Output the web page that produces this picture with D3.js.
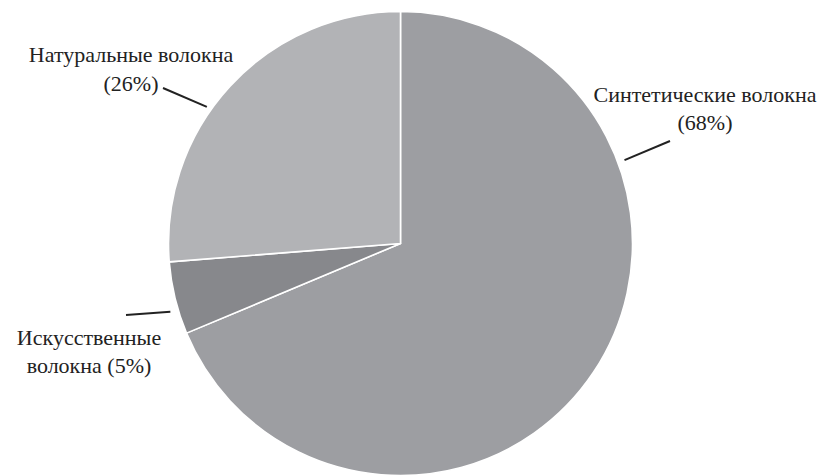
<!DOCTYPE html>
<html><head><meta charset="utf-8">
<script src="https://cdn.jsdelivr.net/npm/d3@7"></script>
<style>
body{margin:0;background:#fff}
#wrap{position:relative;width:830px;height:475px;overflow:hidden}
svg#c{display:block;position:absolute;left:0;top:0}
.lbl{position:absolute;font-family:"Liberation Serif","Times New Roman",Tinos,serif;font-size:22px;color:#222;white-space:nowrap;transform:translate(-50%,-80%);line-height:1}
</style>
</head><body>
<div id="wrap"><svg id="c" width="830" height="475"></svg></div>
<script>
const categories = ["Синтетические волокна", "Искусственные волокна", "Натуральные волокна"];
const values = [68, 5, 26];
const colors = ["#9d9ea2", "#87888c", "#b2b3b6"];
const labelLines = [["Синтетические волокна", "(68%)"], ["Искусственные", "волокна (5%)"], ["Натуральные волокна", "(26%)"]];

const svg = d3.select("#c");
const wrap = d3.select("#wrap");
const cx = 400.5, cy = 243.5, R = 232;
const g = svg.append("g").attr("transform", `translate(${cx},${cy})`);
const pie = d3.pie().sort(null).value(d => d)(values);
const arc = d3.arc().innerRadius(0).outerRadius(R);
g.selectAll("path").data(pie).enter().append("path")
  .attr("d", arc).attr("fill", (d, i) => colors[i])
  .attr("stroke", "#fff").attr("stroke-width", 1.6).attr("stroke-linejoin", "round");

const layout = [
  {ang: 69.6, r: 239, p2: [670, 141], tx: 705, ty: [102, 130]},
  {ang: 253.5, r: 240, p2: [126, 315], tx: 89, ty: [345, 373]},
  {ang: 305.2, r: 237, p2: [163, 88], tx: 131, ty: [62, 91]}
];
layout.forEach((L, i) => {
  const a = L.ang * Math.PI / 180;
  const x1 = cx + L.r * Math.sin(a), y1 = cy - L.r * Math.cos(a);
  svg.append("line").attr("x1", x1).attr("y1", y1).attr("x2", L.p2[0]).attr("y2", L.p2[1])
    .attr("stroke", "#222").attr("stroke-width", 2);
  labelLines[i].forEach((t, j) => {
    wrap.append("div").attr("class", "lbl")
      .style("left", L.tx + "px").style("top", L.ty[j] + "px").text(t);
  });
});
</script>
</body></html>
